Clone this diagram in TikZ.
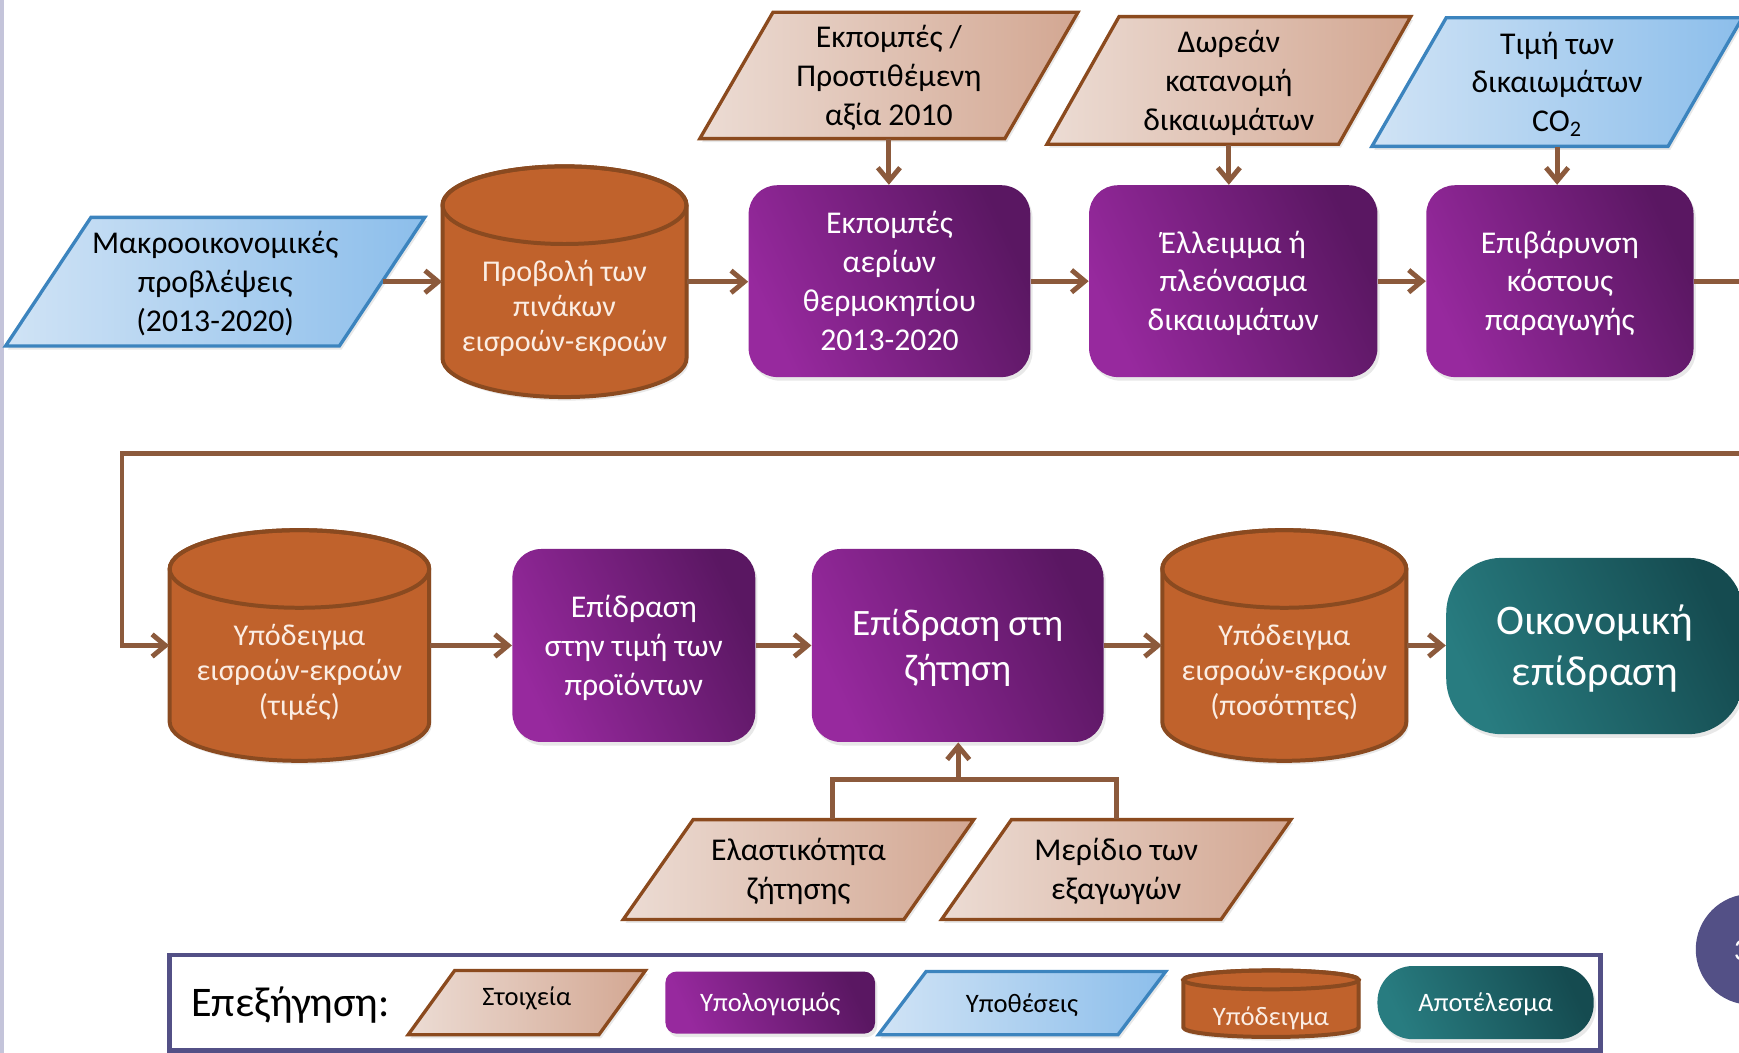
\documentclass[tikz,border=0pt]{standalone}
\usepackage{fontspec}
\setmainfont{Carlito}
\usetikzlibrary{arrows.meta,shadows}
\definecolor{arrowc}{HTML}{8C5A3C}
\definecolor{cylfill}{HTML}{C0622C}
\definecolor{cylline}{HTML}{8A4A20}
\definecolor{cyltext}{HTML}{FBEDE3}
\definecolor{purL}{HTML}{97299E}
\definecolor{purR}{HTML}{5A1762}
\definecolor{tealL}{HTML}{287C80}
\definecolor{tealR}{HTML}{154B50}
\definecolor{blueL}{HTML}{D0E3F5}
\definecolor{blueR}{HTML}{8CBEEB}
\definecolor{blueB}{HTML}{3C84BE}
\definecolor{tanL}{HTML}{ECDCD4}
\definecolor{tanR}{HTML}{D3A792}
\definecolor{tanB}{HTML}{8B4A1E}
\definecolor{legc}{HTML}{535086}
\definecolor{stripc}{HTML}{C4C4DA}

% line-box struts (ascent / descent as in the slide's text boxes)
\newcommand\ST{\rule{0pt}{0.952em}}
\newcommand\SB{\rule[-0.269em]{0pt}{0pt}}

% parallelogram: #1 shape style, #2 node options, #3 name, #4 cx, #5 cy, #6 half side, #7 half height, #8 half slant, #9 text
\newcommand\mypara[9]{%
  \path[#1] ({#4-#6-#8},{#5+#7}) -- ({#4-#6+#8},{#5-#7}) -- ({#4+#6+#8},{#5-#7}) -- ({#4+#6-#8},{#5+#7}) -- cycle;
  \node[paratext, minimum width=#6pt, minimum height=#7pt, #2] (#3) at (#4,#5) {\ST#9\SB};
}
% cylinder: #1 text options, #2 name, #3 cx, #4 cy, #5 half width, #6 half height, #7 ellipse ry, #8 text y, #9 text
\newcommand\mycyl[9]{%
  \path[cylshape] ({#3-#5},{#4-#6+#7}) -- ({#3-#5},{#4+#6-#7})
     arc[start angle=180, end angle=360, x radius=#5*0.5pt, y radius=#7*0.5pt]
     -- ({#3+#5},{#4-#6+#7})
     arc[start angle=0, end angle=180, x radius=#5*0.5pt, y radius=#7*0.5pt] -- cycle;
  \draw[draw=cylline, line width=1.8pt] (#3,{#4-#6+#7}) ellipse[x radius=#5*0.5pt, y radius=#7*0.5pt];
  \node[inner sep=0, minimum width=#5pt, minimum height=#6pt] (#2) at (#3,#4) {};
  \node[cyltxt, #1] (#2-t) at (#3,#8) {#9};
}

\begin{document}
\begin{tikzpicture}[x=0.5pt, y=-0.5pt,
  shade1/.style={drop shadow={shadow xshift=1pt, shadow yshift=-1.6pt, opacity=0.18}},
  f143/.style={font=\fontsize{14.3}{17.5}\selectfont},
  f168/.style={font=\fontsize{16.8}{20.5}\selectfont},
  f190/.style={font=\fontsize{19}{23}\selectfont},
  f120/.style={font=\fontsize{12}{14.6}\selectfont},
  blueshape/.style={left color=blueL, right color=blueR, draw=blueB, line width=1.5pt, shade1},
  tanshape/.style={left color=tanL, right color=tanR, draw=tanB, line width=1.5pt, shade1},
  paratext/.style={align=center, inner sep=0, text=black, f143},
  cylshape/.style={fill=cylfill, draw=cylline, line width=1.8pt, shade1},
  cyltxt/.style={align=center, inner sep=0, text=cyltext, font=\fontsize{13.6}{15.9}\selectfont},
  calcbox/.style={rectangle, rounded corners=13pt, left color=purL, right color=purR, shading angle=115,
     text=white, align=center, inner sep=0, f143, shade1},
  resbox/.style={rectangle, left color=tealL, right color=tealR, shading angle=115, text=white,
     align=center, inner sep=0, shade1},
  conn/.style={draw=arrowc, line width=2.2pt},
  arr/.style={conn, -{Straight Barb[length=6pt, width=10pt]}}
]
\useasboundingbox (0,0) rectangle (1568,949);
\clip (0,0) rectangle (1568,949);
\fill[white] (0,0) rectangle (1568,949);
\fill[stripc] (0,0) rectangle (4,949);

% ---- top row ----
\mypara{blueshape}{}{macro}{194}{254}{150.5}{58}{38.5}{Μακροοικονομικές\\προβλέψεις\\(2013-2020)}
\mycyl{}{proj}{509}{254}{110}{104}{35}{278}{Προβολή των\\πινάκων\\εισροών-εκροών}
\node[calcbox, minimum width=127pt, minimum height=86.5pt] (ghg) at (802,253.5) {\ST Εκπομπές\\αερίων\\θερμοκηπίου\\2013-2020\SB};
\node[calcbox, minimum width=130pt, minimum height=86.5pt] (deficit) at (1112,253.5) {\ST Έλλειμμα ή\\πλεόνασμα\\δικαιωμάτων\SB};
\node[calcbox, minimum width=120.5pt, minimum height=86.5pt] (cost) at (1406.5,253.5) {\ST Επιβάρυνση\\κόστους\\παραγωγής\SB};

\mypara{tanshape}{}{emis}{801.5}{68}{137.5}{57}{33}{Εκπομπές /\\Προστιθέμενη\\αξία 2010}
\mypara{tanshape}{}{free}{1108}{72.5}{131.5}{57.5}{32.5}{Δωρεάν\\κατανομή\\δικαιωμάτων}
\mypara{blueshape}{}{co2}{1404}{74}{133.5}{58}{33.5}{Τιμή των\\δικαιωμάτων\\CO\textsubscript{2}}

% ---- bottom row ----
\mycyl{}{cylP}{270}{582}{117}{104}{35}{606}{Υπόδειγμα\\εισροών-εκροών\\(τιμές)}
\node[calcbox, minimum width=109.5pt, minimum height=87pt] (price) at (571.5,582) {\ST Επίδραση\\στην τιμή των\\προϊόντων\SB};
\node[calcbox, minimum width=131.5pt, minimum height=87pt, f168] (demand) at (863.5,582) {\ST Επίδραση στη\\ζήτηση\SB};
\mycyl{}{cylQ}{1158}{582}{110}{104}{35}{606}{Υπόδειγμα\\εισροών-εκροών\\(ποσότητες)}
\node[resbox, rounded corners=25pt, minimum width=134pt, minimum height=79.5pt, f190] (result) at (1438,582.5) {\ST Οικονομική\\επίδραση\SB};

\mypara{tanshape}{}{elast}{720}{784}{126.5}{45}{31.5}{Ελαστικότητα\\ζήτησης}
\mypara{tanshape}{}{share}{1006.5}{784}{126}{45}{31.5}{Μερίδιο των\\εξαγωγών}

% ---- connectors ----
\draw[arr] (macro.east) -- (proj.west);
\draw[arr] (proj.east) -- (proj.east -| ghg.west);
\draw[arr] (ghg.east) -- (deficit.west);
\draw[arr] (deficit.east) -- (cost.west);
\draw[arr] (emis.south) -- (emis.south |- ghg.north);
\draw[arr] (free.south) -- (free.south |- deficit.north);
\draw[arr] (co2.south) -- (co2.south |- cost.north);

\coordinate (loopR) at (1595,409);
\coordinate (loopL) at (110,409);
\draw[arr] (cost.east) -| (loopR) -- (loopL) |- (cylP.west);

\draw[arr] (cylP.east) -- (price.west);
\draw[arr] (price.east) -- (demand.west);
\draw[arr] (demand.east) -- (cylQ.west);
\draw[arr] (cylQ.east) -- (cylQ.east -| result.west);

\coordinate (jL) at (751,703);
\coordinate (jR) at (1006.5,703);
\coordinate (jM) at (864,703);
\draw[conn] (elast.north -| jL) -- (jL) -- (jR) -- (share.north);
\draw[arr] (jM) -- (jM |- demand.south);

% ---- legend ----
\node[draw=legc, line width=2pt, fill=white, minimum width=645pt, minimum height=43pt, inner sep=0] (legend) at (798,904) {};
\node[anchor=west, inner sep=0, font=\fontsize{19}{23}\selectfont] (legtitle) at (172,906) {Επεξήγηση:};
\mypara{tanshape}{f120, yshift=3pt}{legdata}{475}{904}{86}{29}{21}{Στοιχεία}
\node[calcbox, rounded corners=5pt, minimum width=94.5pt, minimum height=28pt, f120] (legcalc) at (694.5,904) {\ST Υπολογισμός\SB};
\mypara{blueshape}{f120}{legassum}{921.5}{904.5}{108}{28.5}{21.5}{Υποθέσεις}
\mycyl{font=\fontsize{12}{14.6}\selectfont}{legmodel}{1146}{905}{79}{30}{8.5}{918}{Υπόδειγμα}
\node[resbox, rounded corners=16pt, minimum width=97.5pt, minimum height=33pt, f120] (legres) at (1339.5,904) {\ST Αποτέλεσμα\SB};

% ---- slide number ----
\node[circle, fill=legc, minimum size=50pt, inner sep=0] (slide) at (1579,856) {};
\node[anchor=west, inner sep=0, text=white, font=\fontsize{14}{16}\selectfont] (slidenum) at (1563,857) {3};
\end{tikzpicture}
\end{document}
